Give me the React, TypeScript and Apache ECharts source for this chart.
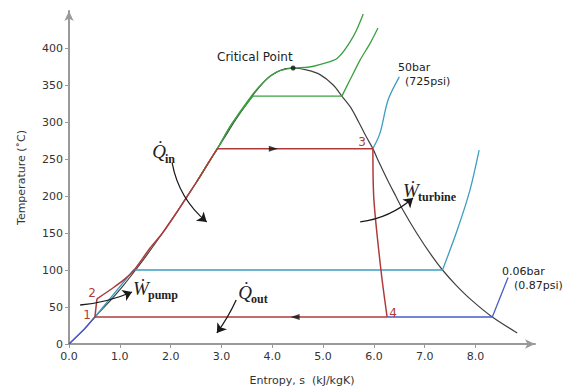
import React, { useEffect, useRef } from "react";
import * as echarts from "echarts";

// Saturation dome (entropy s [kJ/kgK], temperature T [°C])
const domeS = [0, 0.3, 0.51, 0.83, 1.08, 1.31, 1.53, 1.84, 2.14, 2.33, 2.52, 2.79, 2.92, 3.07, 3.25, 3.45, 3.66, 3.92, 4.1, 4.25, 4.41, 4.69, 4.94, 5.2, 5.37, 5.54, 5.7, 5.85, 5.98, 6.07, 6.28, 6.43, 6.58, 6.84, 7.13, 7.35, 7.61, 7.91, 8.33, 8.82];
const domeT = [0, 20, 36.5, 60, 80, 100, 120, 150, 180, 200, 220, 250, 264, 280, 300, 320, 340, 360, 368, 372, 373, 370, 364, 350, 335, 320, 300, 280, 264, 250, 220, 200, 180, 150, 120, 100, 80, 60, 36.5, 15];

// 0.06 bar isobar (blue)
const blueLiqS = [0, 0.3, 0.51];
const blueLiqT = [0, 20, 36.5];
const blueVapS = [6.26, 8.33, 8.64];
const blueVapT = [36.5, 36.5, 90];

// 1 atm isobar (teal)
const tealLowS = [0.51, 1.27, 7.35];
const tealLowT = [36.5, 100, 100];
const tealSupS = [7.35, 7.64, 7.89, 8.07];
const tealSupT = [100, 154, 208, 262];

// 50 bar isobar superheated part (teal)
const teal50S = [5.98, 6.12, 6.28, 6.5];
const teal50T = [264, 285, 330, 361];

// Critical isobar (green)
const greenCritS = [2.52, 2.79, 2.92, 3.2, 3.5, 3.8, 4.1, 4.41, 4.7, 4.95, 5.28, 5.59, 5.79];
const greenCritT = [220, 250, 264, 297, 327, 352, 368, 373, 374, 378, 386, 415, 446];

// ~140 bar isobar (green)
const greenHiLiqS = [2.52, 2.79, 2.92, 3.2, 3.62];
const greenHiLiqT = [220, 250, 264, 297, 335];
const greenHiFlatS = [3.62, 5.37];
const greenHiFlatT = [335, 335];
const greenHiSupS = [5.37, 5.53, 5.73, 5.93, 6.08];
const greenHiSupT = [335, 357, 384, 407, 427];

// Rankine cycle (red): 1 -> 2 -> heating -> 3 -> 4 -> 1
const pumpS = [0.51, 0.55];
const pumpT = [36.5, 61];
const heatS = [0.55, 0.87, 1.1, 1.27, 1.6, 1.84, 2.14, 2.33, 2.52, 2.79, 2.92];
const heatT = [61, 76, 88, 99, 130, 150, 180, 200, 220, 250, 264];
const boilS = [2.92, 5.98];
const boilT = [264, 264];
const turbS = [5.98, 6.0, 6.14, 6.26];
const turbT = [264, 195, 99, 36.5];
const condS = [6.26, 0.51];
const condT = [36.5, 36.5];

// Flow direction arrowheads on the red cycle
const arrowRight = [4.02, 264];
const arrowLeft = [4.45, 36.5];
const criticalPoint = [4.41, 373];

// Annotation arrows [start, end] in data coordinates
const qInArrow = [[2.03, 244.6], [2.71, 165]];
const wTurbArrow = [[5.73, 164.9], [6.77, 197.3]];
const wPumpArrow = [[0.22, 52.7], [1.24, 70.3]];
const qOutArrow = [[3.29, 59.5], [2.91, 14.9]];

const xTicks = [0, 1, 2, 3, 4, 5, 6, 7, 8];
const yTicks = [0, 50, 100, 150, 200, 250, 300, 350, 400];

const pairs = (s: number[], t: number[]) => s.map((v, i) => [v, t[i]]);

const RED = "#b03a3a";
const TEAL = "#3d9dc2";
const BLUE = "#4a5cc8";
const GREEN = "#3aa040";
const DOME = "#404040";
const AXIS = "#9a9a9a";
const SANS = "DejaVu Sans";
const SERIF = "Liberation Serif";

function line(data: number[][], color: string, smooth: number | boolean, width = 1.3, z = 3) {
  return {
    type: "line",
    data,
    symbol: "none",
    showSymbol: false,
    smooth,
    lineStyle: { color, width },
    z,
    silent: true,
  };
}

function arrow(coords: number[][], curveness: number) {
  return {
    type: "lines",
    coordinateSystem: "cartesian2d",
    symbol: ["none", "arrow"],
    symbolSize: 9,
    lineStyle: { color: "#1a1a1a", width: 1.3, curveness, opacity: 1 },
    data: [{ coords }],
    z: 6,
    silent: true,
  };
}

function txt(text: string, x: number, y: number, font: string, fill = "#222", align = "left") {
  return {
    type: "text",
    x,
    y,
    z: 10,
    style: { text, font, fill, align, verticalAlign: "middle" },
  };
}

export default function App() {
  const ref = useRef<HTMLDivElement>(null);
  useEffect(() => {
    if (!ref.current) return;
    const chart = echarts.init(ref.current, undefined, { renderer: "svg" });
    const axisCommon = {
      type: "value",
      splitLine: { show: false },
      axisLine: {
        show: true,
        symbol: ["none", "arrow"],
        symbolSize: [7, 10],
        lineStyle: { color: AXIS, width: 2 },
      },
      nameLocation: "middle",
      nameTextStyle: { color: "#333", fontFamily: SANS, fontSize: 11 },
    };
    chart.setOption({
      animation: false,
      backgroundColor: "#fff",
      grid: { left: 69, right: 36, top: 11, bottom: 48 },
      xAxis: {
        ...axisCommon,
        min: 0,
        max: 9.17,
        interval: 1,
        name: "Entropy, s  (kJ/kgK)",
        nameGap: 31,
        axisTick: { show: true, length: 4, customValues: xTicks, lineStyle: { color: AXIS } },
        axisLabel: {
          customValues: xTicks,
          formatter: (v: number) => v.toFixed(1),
          color: "#333",
          fontFamily: SANS,
          fontSize: 11,
          margin: 7,
        },
      },
      yAxis: {
        ...axisCommon,
        min: 0,
        max: 450,
        interval: 50,
        name: "Temperature (˚C)",
        nameGap: 42,
        axisTick: { show: true, length: 4, customValues: yTicks, lineStyle: { color: AXIS } },
        axisLabel: {
          customValues: yTicks,
          color: "#333",
          fontFamily: SANS,
          fontSize: 11,
          margin: 6,
        },
      },
      series: [
        line(pairs(domeS, domeT), DOME, 0.3, 1.2, 2),
        line(pairs(blueLiqS, blueLiqT), BLUE, false),
        line(pairs(blueVapS, blueVapT), BLUE, false),
        line(pairs(tealLowS, tealLowT), TEAL, false),
        line(pairs(tealSupS, tealSupT), TEAL, 0.3),
        line(pairs(teal50S, teal50T), TEAL, 0.3),
        line(pairs(greenCritS, greenCritT), GREEN, 0.3),
        line(pairs(greenHiLiqS, greenHiLiqT), GREEN, 0.3),
        line(pairs(greenHiFlatS, greenHiFlatT), GREEN, false),
        line(pairs(greenHiSupS, greenHiSupT), GREEN, 0.3),
        line(pairs(pumpS, pumpT), RED, false, 1.5, 4),
        line(pairs(heatS, heatT), RED, 0.3, 1.5, 4),
        line(pairs(boilS, boilT), RED, false, 1.5, 4),
        line(pairs(turbS, turbT), RED, 0.3, 1.5, 4),
        line(pairs(condS, condT), RED, false, 1.5, 4),
        {
          type: "scatter",
          data: [arrowRight],
          symbol: "path://M0,0 L10,5 L0,10 Z",
          symbolSize: [9, 6],
          itemStyle: { color: "#111" },
          z: 5,
          silent: true,
        },
        {
          type: "scatter",
          data: [arrowLeft],
          symbol: "path://M10,0 L0,5 L10,10 Z",
          symbolSize: [9, 6],
          itemStyle: { color: "#111" },
          z: 5,
          silent: true,
        },
        {
          type: "scatter",
          data: [criticalPoint],
          symbol: "circle",
          symbolSize: 5,
          itemStyle: { color: "#111" },
          z: 5,
          silent: true,
        },
        arrow(qInArrow, -0.18),
        arrow(wTurbArrow, -0.15),
        arrow(wPumpArrow, -0.08),
        arrow(qOutArrow, 0.05),
      ],
      graphic: [
        txt("Critical Point", 217, 57, `12px ${SANS}`),
        txt("50bar", 398, 67, `11px ${SANS}`),
        txt("(725psi)", 405, 81, `11px ${SANS}`),
        txt("0.06bar", 502, 271, `11px ${SANS}`),
        txt("(0.87psi)", 514, 285, `11px ${SANS}`),
        txt("1", 87, 315, `12px ${SANS}`, RED, "center"),
        txt("2", 92, 293, `12px ${SANS}`, RED, "center"),
        txt("3", 362, 142, `12px ${SANS}`, RED, "center"),
        txt("4", 393, 313, `12px ${SANS}`, RED, "center"),
        txt("Q\u0307", 159, 151, `italic 19px ${SERIF}`, "#222", "center"),
        txt("in", 165, 159, `bold 12px ${SERIF}`),
        txt("W\u0307", 411, 190, `italic 19px ${SERIF}`, "#222", "center"),
        txt("turbine", 418, 197, `bold 12px ${SERIF}`),
        txt("W\u0307", 141, 288, `italic 19px ${SERIF}`, "#222", "center"),
        txt("pump", 148, 295, `bold 12px ${SERIF}`),
        txt("Q\u0307", 245, 292, `italic 19px ${SERIF}`, "#222", "center"),
        txt("out", 251, 299, `bold 12px ${SERIF}`),
      ],
    });
    return () => chart.dispose();
  }, []);
  return <div ref={ref} style={{ width: 571, height: 392, position: "absolute", left: 0, top: 0 }} />;
}
